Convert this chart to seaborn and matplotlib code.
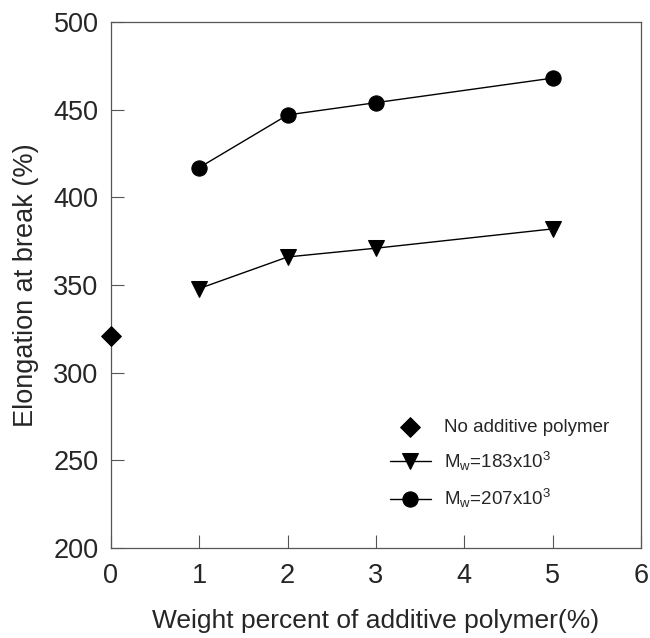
import matplotlib
matplotlib.use("Agg")
import matplotlib.pyplot as plt
import seaborn as sns
import pandas as pd

sns.set_style("white")
plt.rcParams['font.family'] = ['Liberation Sans', 'DejaVu Sans']
plt.rcParams['mathtext.fontset'] = 'custom'
plt.rcParams['mathtext.rm'] = 'Liberation Sans'
plt.rcParams['mathtext.it'] = 'Liberation Sans'

# data
x_none = [0]
y_none = [321]
x_series = [1, 2, 3, 5]
y_183 = [348, 366, 371, 382]
y_207 = [417, 447, 454, 468]
xticks = [0, 1, 2, 3, 4, 5, 6]
yticks = [200, 250, 300, 350, 400, 450, 500]

fig = plt.figure(figsize=(6.5, 6.38), dpi=100)
ax = fig.add_axes([111/650, 1 - 548/638, 530/650, 526/638])

df183 = pd.DataFrame({"x": x_series, "y": y_183})
df207 = pd.DataFrame({"x": x_series, "y": y_207})
dfn = pd.DataFrame({"x": x_none, "y": y_none})

sns.scatterplot(data=dfn, x="x", y="y", marker="D", s=100, color="black",
                edgecolor="black", ax=ax, label="No additive polymer", clip_on=False, zorder=5)
sns.lineplot(data=df183, x="x", y="y", marker="v", markersize=11, color="black",
             markeredgecolor="black", linewidth=1, ax=ax,
             label=r"M$_\mathregular{w}$=183x10$^\mathregular{3}$")
sns.lineplot(data=df207, x="x", y="y", marker="o", markersize=11, color="black",
             markeredgecolor="black", linewidth=1, ax=ax,
             label=r"M$_\mathregular{w}$=207x10$^\mathregular{3}$")

ax.set_xlim(0, 6)
ax.set_ylim(200, 500)
ax.set_xticks(xticks)
ax.set_yticks(yticks)
ax.tick_params(axis='both', direction='in', length=9.5, width=0.8, color='#555555',
               labelsize=19.5, top=False, right=False, left=True, bottom=True)
ax.tick_params(axis='x', pad=11)
ax.tick_params(axis='y', pad=9)
for s in ax.spines.values():
    s.set_color('#555555')
    s.set_linewidth(0.9)

ax.set_xlabel("Weight percent of additive polymer(%)", fontsize=19, labelpad=14)
ax.set_ylabel("Elongation at break (%)", fontsize=19.5, labelpad=10)

leg = ax.legend(loc='lower right', bbox_to_anchor=(0.94, 0.072), frameon=False,
                fontsize=13.5, handlelength=2.2, labelspacing=0.75, handletextpad=0.7,
                borderaxespad=0, borderpad=0)

fig.savefig("out.png", dpi=100)
